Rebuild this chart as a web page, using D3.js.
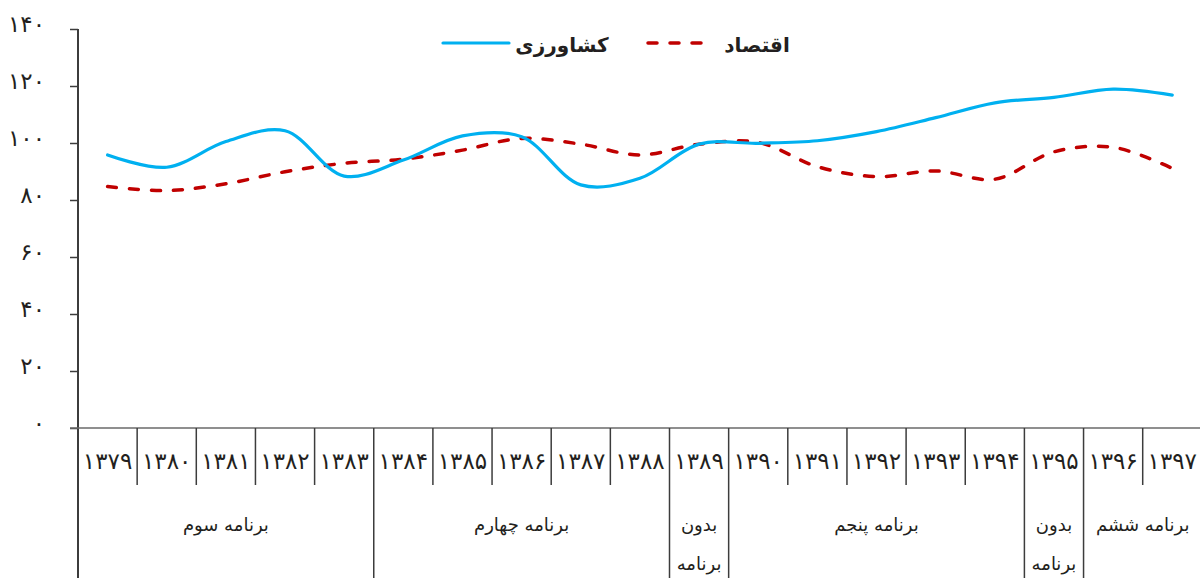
<!DOCTYPE html>
<html>
<head>
<meta charset="utf-8">
<script src="https://cdn.jsdelivr.net/npm/d3@7"></script>
<style>
  html, body { margin: 0; padding: 0; background: #fff; }
  svg { display: block; }
  text { font-family: "DejaVu Sans", "Noto Sans", sans-serif; fill: #231f20; }
</style>
</head>
<body>
<svg id="chart" width="1200" height="578"></svg>
<script>
// ---------- data ----------
const years = ["۱۳۷۹","۱۳۸۰","۱۳۸۱","۱۳۸۲","۱۳۸۳","۱۳۸۴","۱۳۸۵","۱۳۸۶","۱۳۸۷","۱۳۸۸",
               "۱۳۸۹","۱۳۹۰","۱۳۹۱","۱۳۹۲","۱۳۹۳","۱۳۹۴","۱۳۹۵","۱۳۹۶","۱۳۹۷"];
const agriculture = [95.8, 91.5, 100.5, 104.3, 88.4, 94.0, 102.5, 102.2, 85.3, 87.6,
                     99.6, 99.9, 100.8, 104.0, 108.9, 114.1, 116.0, 118.9, 116.8];
const economy     = [84.7, 83.3, 85.7, 89.9, 92.9, 94.3, 97.5, 101.6, 99.6, 95.8,
                     99.6, 100.2, 91.7, 88.2, 90.2, 87.3, 96.9, 98.5, 91.1];
const seriesNames = ["کشاورزی", "اقتصاد"];
const yTicks = [0, 20, 40, 60, 80, 100, 120, 140];
const groupLabels = [["برنامه سوم"], ["برنامه چهارم"], ["بدون", "برنامه"], ["برنامه پنجم"], ["بدون", "برنامه"], ["برنامه ششم"]];
const groupSizes = [5, 5, 1, 5, 1, 2];

// ---------- layout ----------
const svg = d3.select("#chart");
const left = 78, bandW = 59.15;
const x = d3.scaleBand().domain(years).range([left, left + bandW * years.length]).paddingInner(0).paddingOuter(0);
const y = d3.scaleLinear().domain([0, 140]).range([428, 29]);
const fa = n => String(n).replace(/[0-9]/g, d => "۰۱۲۳۴۵۶۷۸۹"[+d]);
const axisColor = "#3c3c3c";

// y axis
const yAxis = d3.axisLeft(y).tickValues(yTicks).tickSize(8).tickSizeOuter(0).tickPadding(25).tickFormat(fa);
const gy = svg.append("g").attr("transform", `translate(${left},0)`).call(yAxis);
gy.select(".domain").remove();
gy.selectAll(".tick line").attr("stroke", axisColor).attr("stroke-width", 1.5);
gy.selectAll(".tick text").attr("font-size", 23).attr("dy", "0.1em").attr("fill", "#231f20")
  .attr("letter-spacing", 1)
  .style("font-family", '"DejaVu Sans", sans-serif');
svg.append("line").attr("x1", left).attr("x2", left).attr("y1", y(140)).attr("y2", 578)
  .attr("stroke", axisColor).attr("stroke-width", 2);

// baseline
svg.append("line").attr("x1", left - 8).attr("x2", 1200).attr("y1", y(0)).attr("y2", y(0))
  .attr("stroke", "#6a6a6a").attr("stroke-width", 1.5);

// category table
const boundaries = [];
let acc = 0;
groupSizes.forEach(s => { acc += s; boundaries.push(acc); });
years.forEach((yr, i) => {
  if (i === 0) return;
  const isGroup = boundaries.includes(i);
  svg.append("line").attr("x1", x(yr)).attr("x2", x(yr))
    .attr("y1", y(0)).attr("y2", isGroup ? 578 : 485)
    .attr("stroke", axisColor).attr("stroke-width", 1.5);
});
svg.append("g").selectAll("text").data(years).join("text")
  .attr("x", d => x(d) + x.bandwidth() / 2).attr("y", 461).attr("dy", "0.35em")
  .attr("text-anchor", "middle").attr("font-size", 23).attr("letter-spacing", 1.5).text(d => d);

// group labels
let start = 0;
groupLabels.forEach((lines, gi) => {
  const a = x(years[start]);
  const b = x(years[start + groupSizes[gi] - 1]) + x.bandwidth();
  const cx = (a + b) / 2;
  lines.forEach((ln, li) => {
    svg.append("text").attr("x", cx).attr("y", 525 + li * 39).attr("dy", "0.35em")
      .attr("text-anchor", "middle").attr("font-size", 18).text(ln);
  });
  start += groupSizes[gi];
});

// lines
const cx = d => x(d) + x.bandwidth() / 2;
const line = d3.line().x((d, i) => cx(years[i])).y(d => y(d)).curve(d3.curveCatmullRom.alpha(0.5));
svg.append("path").datum(economy).attr("d", line).attr("fill", "none")
  .attr("stroke", "#C00000").attr("stroke-width", 3.5).attr("stroke-dasharray", "9,13")
  .attr("stroke-linecap", "round");
svg.append("path").datum(agriculture).attr("d", line).attr("fill", "none")
  .attr("stroke", "#00B0F0").attr("stroke-width", 3.2).attr("stroke-linecap", "round");

// legend
const lg = svg.append("g");
lg.append("line").attr("x1", 443).attr("x2", 509).attr("y1", 43).attr("y2", 43)
  .attr("stroke", "#00B0F0").attr("stroke-width", 3.2).attr("stroke-linecap", "round");
lg.append("text").attr("x", 562).attr("y", 45).attr("dy", "0.35em").attr("text-anchor", "middle")
  .attr("font-size", 20).attr("font-weight", "bold").text(seriesNames[0]);
lg.append("line").attr("x1", 648).attr("x2", 704).attr("y1", 43).attr("y2", 43)
  .attr("stroke", "#C00000").attr("stroke-width", 3.5).attr("stroke-dasharray", "9,13")
  .attr("stroke-linecap", "round");
lg.append("text").attr("x", 757).attr("y", 45).attr("dy", "0.35em").attr("text-anchor", "middle")
  .attr("font-size", 20).attr("font-weight", "bold").text(seriesNames[1]);
</script>
</body>
</html>
